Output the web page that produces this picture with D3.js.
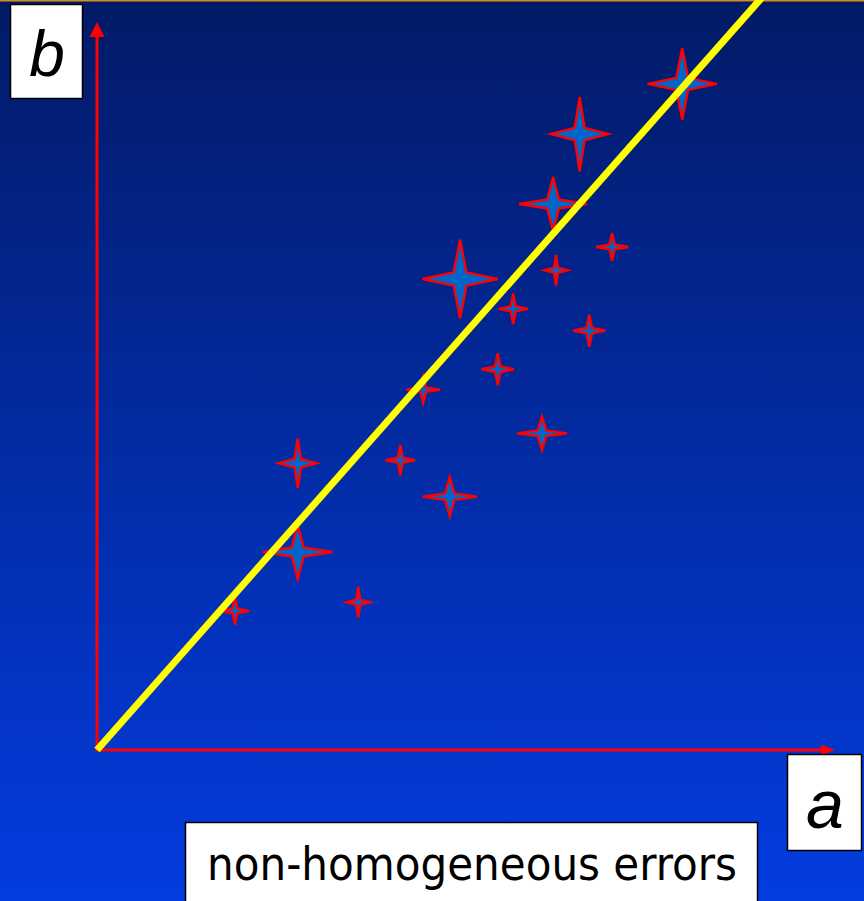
<!DOCTYPE html>
<html>
<head>
<meta charset="utf-8">
<script src="https://cdn.jsdelivr.net/npm/d3@7"></script>
<style>
  html, body { margin: 0; padding: 0; background: #0339d8; }
  svg { display: block; }
</style>
</head>
<body>
<svg id="chart"></svg>
<script>
// measured points (a, b) with their error half-widths in data units
var aValues = [7.93, 6.54, 6.18, 6.98, 6.22, 4.92, 5.64, 6.67, 5.43, 4.42, 6.03, 2.72, 4.11, 4.78, 2.72, 1.87, 3.54];
var bValues = [9.15, 8.46, 7.50, 6.91, 6.59, 6.47, 6.06, 5.76, 5.23, 4.95, 4.35, 3.94, 3.98, 3.48, 2.72, 1.91, 2.03];
var aErrors = [0.47, 0.39, 0.46, 0.22, 0.16, 0.51, 0.20, 0.22, 0.22, 0.23, 0.34, 0.26, 0.20, 0.37, 0.47, 0.19, 0.16];
var bErrors = [0.49, 0.51, 0.37, 0.19, 0.21, 0.54, 0.21, 0.22, 0.22, 0.18, 0.23, 0.34, 0.21, 0.27, 0.37, 0.19, 0.21];

// fitted line endpoints (a, b)
var fitA = [0, 9.3];
var fitB = [0, 10.67];

var xLabel = "a";
var yLabel = "b";
var caption = "non-homogeneous errors";

var width = 864, height = 901;

var svg = d3.select("#chart")
  .attr("width", width)
  .attr("height", height);

// background gradient
var defs = svg.append("defs");
var grad = defs.append("linearGradient")
  .attr("id", "bg")
  .attr("x1", 0).attr("y1", 0)
  .attr("x2", 0).attr("y2", 1);
grad.append("stop").attr("offset", "0%").attr("stop-color", "#021a66");
grad.append("stop").attr("offset", "100%").attr("stop-color", "#033ce0");

svg.append("rect")
  .attr("width", width)
  .attr("height", height)
  .attr("fill", "url(#bg)");

svg.append("rect")
  .attr("width", width)
  .attr("height", 1.5)
  .attr("fill", "#d98a1c");

// scales
var x = d3.scaleLinear().domain([0, 10]).range([97, 835]);
var y = d3.scaleLinear().domain([0, 10]).range([750, 22]);

// axes drawn as arrows
var axisColor = "#ff0000";
svg.append("line")
  .attr("x1", x(0)).attr("y1", y(0))
  .attr("x2", x(0)).attr("y2", y(10) + 12)
  .attr("stroke", axisColor).attr("stroke-width", 3);
svg.append("path")
  .attr("d", "M" + x(0) + "," + y(10) + " L" + (x(0) - 7.5) + "," + (y(10) + 15) +
             " L" + (x(0) + 7.5) + "," + (y(10) + 15) + "Z")
  .attr("fill", axisColor);

svg.append("line")
  .attr("x1", x(0) - 1.5).attr("y1", y(0))
  .attr("x2", x(10) - 12).attr("y2", y(0))
  .attr("stroke", axisColor).attr("stroke-width", 3);
svg.append("path")
  .attr("d", "M" + x(10) + "," + y(0) + " L" + (x(10) - 14) + "," + (y(0) - 5.5) +
             " L" + (x(10) - 14) + "," + (y(0) + 5.5) + "Z")
  .attr("fill", axisColor);

// four pointed stars: arms are the error bars
function star(i) {
  var cx = x(aValues[i]), cy = y(bValues[i]);
  var rx = x(aValues[i] + aErrors[i]) - cx;
  var ry = cy - y(bValues[i] + bErrors[i]);
  var ix = rx * 0.17, iy = ry * 0.17;
  return "M" + cx + "," + (cy - ry) +
    " L" + (cx + ix) + "," + (cy - iy) +
    " L" + (cx + rx) + "," + cy +
    " L" + (cx + ix) + "," + (cy + iy) +
    " L" + cx + "," + (cy + ry) +
    " L" + (cx - ix) + "," + (cy + iy) +
    " L" + (cx - rx) + "," + cy +
    " L" + (cx - ix) + "," + (cy - iy) + "Z";
}

svg.selectAll(".star")
  .data(d3.range(aValues.length))
  .enter()
  .append("path")
  .attr("class", "star")
  .attr("d", star)
  .attr("fill", "#0066cc")
  .attr("stroke", "#ff0000")
  .attr("stroke-width", 2.4)
  .attr("stroke-linejoin", "miter")
  .attr("stroke-miterlimit", 4);

// fitted line
svg.append("line")
  .attr("x1", x(fitA[0])).attr("y1", y(fitB[0]))
  .attr("x2", x(fitA[1])).attr("y2", y(fitB[1]))
  .attr("stroke", "#ffff00")
  .attr("stroke-width", 7);

// label boxes
function labelBox(bx, by, bw, bh) {
  svg.append("rect")
    .attr("x", bx).attr("y", by)
    .attr("width", bw).attr("height", bh)
    .attr("fill", "#ffffff")
    .attr("stroke", "#000000")
    .attr("stroke-width", 1.5);
}

labelBox(10.5, 4.5, 72, 94);
svg.append("text")
  .attr("x", 47).attr("y", 76)
  .attr("text-anchor", "middle")
  .attr("font-family", "Liberation Sans, Arial, sans-serif")
  .attr("font-style", "italic")
  .attr("font-size", 64)
  .text(yLabel);

labelBox(787.5, 754.5, 74, 96);
svg.append("text")
  .attr("x", 825).attr("y", 828)
  .attr("text-anchor", "middle")
  .attr("font-family", "Liberation Sans, Arial, sans-serif")
  .attr("font-style", "italic")
  .attr("font-size", 68)
  .text(xLabel);

labelBox(185.5, 822.5, 572, 90);
var cap = svg.append("text")
  .attr("x", 472).attr("y", 880)
  .attr("text-anchor", "middle")
  .attr("font-family", "DejaVu Sans Condensed, DejaVu Sans, sans-serif")
  .attr("font-stretch", "condensed")
  .attr("font-size", 46)
  .text(caption);
// size the caption to the span it covers in the reference
var capLen = cap.node().getComputedTextLength();
cap.attr("font-size", 46 * 530 / capLen);
</script>
</body>
</html>
